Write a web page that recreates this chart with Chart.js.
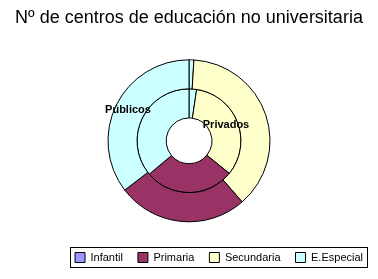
<!DOCTYPE html>
<html>
<head>
<meta charset="utf-8">
<script src="https://cdn.jsdelivr.net/npm/chart.js@4"></script>
<style>
  html, body { margin: 0; padding: 0; background: #fff; }
  #wrap { width: 378px; height: 279px; }
</style>
</head>
<body>
<div id="wrap"><canvas id="c" width="378" height="279"></canvas></div>
<script>
const titleText = 'Nº de centros de educación no universitaria';
const categories = ['Infantil', 'Primaria', 'Secundaria', 'E.Especial'];
const categoryColors = ['#9999FF', '#993366', '#FFFFCC', '#CCFFFF'];
// category index of each slice, clockwise from 12 o'clock, as drawn in the picture
const sliceCategory = [3, 2, 1, 3];
const seriesNames = ['Públicos', 'Privados'];
// share of each ring (%), same slice order
const publicos = [0.97, 37.64, 25.97, 35.42];
const privados = [2.36, 33.47, 28.06, 36.11];

const FONT = '"Liberation Sans", Arial, sans-serif';

const seriesLabelPlugin = {
  id: 'seriesLabels',
  afterDatasetsDraw(chart) {
    const ctx = chart.ctx;
    const arc = chart.getDatasetMeta(0).data[0];
    if (!arc) return;
    const cx = arc.x, cy = arc.y;
    ctx.save();
    ctx.font = 'bold 11px ' + FONT;
    ctx.fillStyle = '#000';
    ctx.textAlign = 'center';
    ctx.textBaseline = 'middle';
    ctx.fillText(seriesNames[0], cx - 61, cy - 31);
    ctx.fillText(seriesNames[1], cx + 37, cy - 16);
    ctx.restore();
  }
};

const legendBoxPlugin = {
  id: 'legendBox',
  afterDraw(chart) {
    const lg = chart.legend;
    if (!lg || !lg.legendHitBoxes || !lg.legendHitBoxes.length) return;
    const hb = lg.legendHitBoxes;
    let l = Infinity, r = -Infinity, t = Infinity, b = -Infinity;
    hb.forEach(h => { l = Math.min(l, h.left); r = Math.max(r, h.left + h.width); t = Math.min(t, h.top); b = Math.max(b, h.top + h.height); });
    const ctx = chart.ctx;
    ctx.save();
    ctx.strokeStyle = '#000';
    ctx.lineWidth = 1;
    ctx.strokeRect(Math.round(l - 5) + 0.5, Math.round(t - 5) + 0.5, Math.round(r - l + 9), Math.round(b - t + 9));
    ctx.restore();
  }
};

new Chart(document.getElementById('c'), {
  type: 'doughnut',
  data: {
    labels: sliceCategory.map(i => categories[i]),
    datasets: [
      { label: seriesNames[0], data: publicos, backgroundColor: sliceCategory.map(i => categoryColors[i]), borderColor: '#000', borderWidth: 1 },
      { label: seriesNames[1], data: privados, backgroundColor: sliceCategory.map(i => categoryColors[i]), borderColor: '#000', borderWidth: 1 }
    ]
  },
  options: {
    responsive: false,
    animation: false,
    radius: 81,
    cutout: 27,
    layout: { padding: { bottom: 6 } },
    plugins: {
      title: {
        display: true,
        text: titleText,
        color: '#000',
        font: { family: FONT, size: 18, weight: 'normal' },
        padding: { top: 7, bottom: 16 }
      },
      legend: {
        position: 'bottom',
        align: 'end',
        labels: {
          boxWidth: 10,
          boxHeight: 10,
          padding: 15,
          color: '#000',
          font: { family: FONT, size: 11 },
          generateLabels: () => categories.map((c, i) => ({
            text: c,
            fillStyle: categoryColors[i],
            strokeStyle: '#000',
            lineWidth: 1,
            hidden: false,
            index: i
          }))
        },
        onClick: null
      },
      tooltip: { enabled: false }
    }
  },
  plugins: [seriesLabelPlugin, legendBoxPlugin]
});
</script>
</body>
</html>
